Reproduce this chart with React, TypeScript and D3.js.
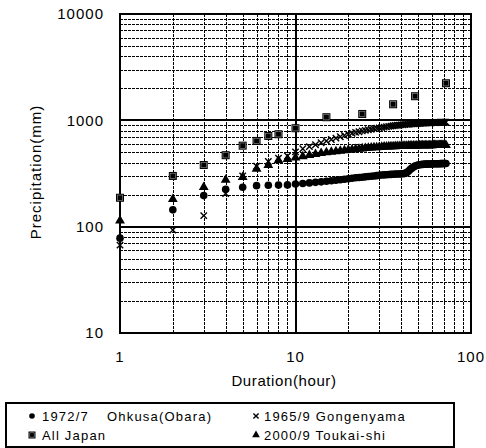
import React, { useRef, useEffect } from "react";
import * as d3 from "d3";

// durations (hour) for the hourly series
const hours = d3.range(1, 73);

const ohkusa = [
  78, 144, 196, 225, 235, 243, 245, 246, 247, 252, 255, 258, 261, 264, 267, 270,
  273, 276, 279, 282, 285, 288, 290, 292, 294, 296, 298, 300, 302, 304, 306, 307,
  308, 309, 310, 311, 312, 313, 313, 314, 315, 317, 322, 332, 344, 355, 364, 371,
  376, 380, 382, 384, 385, 386, 387, 387, 388, 388, 389, 389, 390, 390, 390, 391,
  391, 391, 392, 392, 392, 393, 393, 393,
];

const gongenyama = [
  67, 93, 127, 205, 300, 370, 410, 440, 462, 505, 540, 566, 590, 615, 640, 660,
  680, 700, 720, 740, 755, 770, 782, 795, 805, 815, 825, 835, 842, 850, 857, 864,
  870, 877, 882, 888, 893, 898, 902, 906, 910, 913, 917, 920, 923, 926, 928, 931,
  933, 935, 937, 939, 941, 943, 944, 946, 947, 949, 950, 951, 952, 953, 954, 955,
  956, 957, 958, 958, 959, 960, 960, 961,
];

const toukai = [
  114, 181, 235, 275, 292, 349, 378, 420, 432, 445, 458, 470, 480, 490, 498, 505,
  511, 516, 521, 526, 531, 535, 539, 543, 546, 549, 552, 555, 557, 560, 562, 564,
  565, 567, 568, 569, 570, 571, 572, 573, 574, 575, 575, 576, 577, 577, 578, 578,
  579, 579, 580, 580, 580, 581, 581, 581, 582, 582, 582, 582, 583, 583, 583, 583,
  584, 584, 584, 584, 585, 585, 585, 585,
];

// All Japan record (durations and depths)
const japanHours = [1, 2, 3, 4, 5, 6, 7, 8, 10, 15, 24, 36, 48, 72];
const japanValues = [187, 300, 380, 470, 578, 640, 713, 740, 843, 1070, 1148, 1416, 1686, 2233];

const xTicks = [1, 10, 100];
const yTicks = [10, 100, 1000, 10000];

const W = 486;
const H = 448;
const FONT = "'Liberation Sans', Arial, sans-serif";

const App = () => {
  const ref = useRef<SVGSVGElement>(null);

  useEffect(() => {
    const svg = d3.select(ref.current);
    svg.selectAll("*").remove();

    const x = d3.scaleLog().domain([1, 100]).range([120, 471]);
    const y = d3.scaleLog().domain([10, 10000]).range([333, 14]);
    const px = (v) => Math.round(v) + 0.5;

    const grid = svg.append("g").attr("shape-rendering", "crispEdges");
    // minor grid (dashed)
    const minorX: number[] = [];
    [1, 10].forEach((d) => d3.range(2, 10).forEach((k) => minorX.push(d * k)));
    const minorY: number[] = [];
    [10, 100, 1000].forEach((d) => d3.range(2, 10).forEach((k) => minorY.push(d * k)));

    grid
      .selectAll(".mx")
      .data(minorX)
      .enter()
      .append("line")
      .attr("x1", (d) => px(x(d)))
      .attr("x2", (d) => px(x(d)))
      .attr("y1", y(10))
      .attr("y2", y(10000))
      .attr("stroke", "#000")
      .attr("stroke-width", 1)
      .attr("stroke-dasharray", "3,1");
    grid
      .selectAll(".my")
      .data(minorY)
      .enter()
      .append("line")
      .attr("x1", x(1))
      .attr("x2", x(100))
      .attr("y1", (d) => px(y(d)))
      .attr("y2", (d) => px(y(d)))
      .attr("stroke", "#000")
      .attr("stroke-width", 1)
      .attr("stroke-dasharray", "3,1");
    // major grid
    grid
      .append("line")
      .attr("x1", x(10))
      .attr("x2", x(10))
      .attr("y1", y(10))
      .attr("y2", y(10000))
      .attr("stroke", "#000")
      .attr("stroke-width", 2);
    [100, 1000].forEach((v) =>
      grid
        .append("line")
        .attr("x1", x(1))
        .attr("x2", x(100))
        .attr("y1", Math.round(y(v)))
        .attr("y2", Math.round(y(v)))
        .attr("stroke", "#000")
        .attr("stroke-width", 2)
    );
    svg
      .append("rect")
      .attr("shape-rendering", "crispEdges")
      .attr("x", x(1))
      .attr("y", y(10000))
      .attr("width", x(100) - x(1))
      .attr("height", y(10) - y(10000))
      .attr("fill", "none")
      .attr("stroke", "#000")
      .attr("stroke-width", 2);

    // tick labels
    svg
      .selectAll(".yt")
      .data(yTicks)
      .enter()
      .append("text")
      .attr("x", 104)
      .attr("y", (d) => y(d))
      .attr("dy", "0.35em")
      .attr("text-anchor", "end")
      .style("font", `15px ${FONT}`)
      .style("letter-spacing", "1px")
      .text((d) => d);
    svg
      .selectAll(".xt")
      .data(xTicks)
      .enter()
      .append("text")
      .attr("x", (d) => x(d))
      .attr("y", 362)
      .attr("text-anchor", "middle")
      .style("font", `15px ${FONT}`)
      .style("letter-spacing", "1px")
      .text((d) => d);

    svg
      .append("text")
      .attr("transform", `translate(41, 172) rotate(-90)`)
      .attr("text-anchor", "middle")
      .style("font", `15px ${FONT}`)
      .style("letter-spacing", "1px")
      .text("Precipitation(mm)");
    svg
      .append("text")
      .attr("x", 284)
      .attr("y", 386)
      .attr("text-anchor", "middle")
      .style("font", `15px ${FONT}`)
      .style("letter-spacing", "0.6px")
      .text("Duration(hour)");

    // marker helpers
    const circle = (g, cx, cy, r = 3.8) =>
      g.append("circle").attr("cx", cx).attr("cy", cy).attr("r", r).attr("fill", "#000");
    const cross = (g, cx, cy, s = 3.2) => {
      g.append("path")
        .attr("d", `M${cx - s},${cy - s}L${cx + s},${cy + s}M${cx - s},${cy + s}L${cx + s},${cy - s}`)
        .attr("stroke", "#000")
        .attr("stroke-width", 1.4)
        .attr("fill", "none");
    };
    const square = (g, cx, cy, s = 8) => {
      g.append("rect")
        .attr("x", cx - s / 2)
        .attr("y", cy - s / 2)
        .attr("width", s)
        .attr("height", s)
        .attr("fill", "#000");
      g.append("rect")
        .attr("x", cx - s / 2 + 1.3)
        .attr("y", cy - s / 2 + 1.3)
        .attr("width", s - 2.6)
        .attr("height", s - 2.6)
        .attr("fill", "#000")
        .attr("stroke", "#999")
        .attr("stroke-width", 0.6);
    };
    const triSym = d3.symbol().type(d3.symbolTriangle);
    const triangle = (g, cx, cy, size = 42) =>
      g.append("path")
        .attr("d", triSym.size(size)())
        .attr("transform", `translate(${cx},${cy})`)
        .attr("fill", "#000");

    const marks = svg.append("g");
    hours.forEach((h, i) => circle(marks, x(h), y(ohkusa[i])));
    hours.forEach((h, i) => cross(marks, x(h), y(gongenyama[i])));
    hours.forEach((h, i) => triangle(marks, x(h), y(toukai[i])));
    japanHours.forEach((h, i) => square(marks, x(h), y(japanValues[i])));

    // legend
    const lg = svg.append("g");
    lg.append("rect")
      .attr("shape-rendering", "crispEdges")
      .attr("x", 6)
      .attr("y", 403)
      .attr("width", 448)
      .attr("height", 44)
      .attr("fill", "#fff")
      .attr("stroke", "#000")
      .attr("stroke-width", 1.2);
    const lt = (tx, ty, s) =>
      lg.append("text")
        .attr("x", tx)
        .attr("y", ty)
        .style("font", `13px ${FONT}`)
        .style("letter-spacing", "1.2px")
        .style("white-space", "pre")
        .text(s);
    circle(lg, 32, 416, 2.8);
    lt(42, 421, "1972/7");
    lt(107, 421, "Ohkusa(Obara)");
    square(lg, 32, 435, 7);
    lt(42, 440, "All Japan");
    cross(lg, 256, 416, 2.6);
    lt(264, 421, "1965/9 Gongenyama");
    triangle(lg, 256, 435, 26);
    lt(264, 440, "2000/9 Toukai-shi");
  }, []);

  return (
    <svg
      ref={ref}
      width={W}
      height={H}
      style={{ position: "absolute", left: 0, top: 0, background: "#fff" }}
    />
  );
};

export default App;
